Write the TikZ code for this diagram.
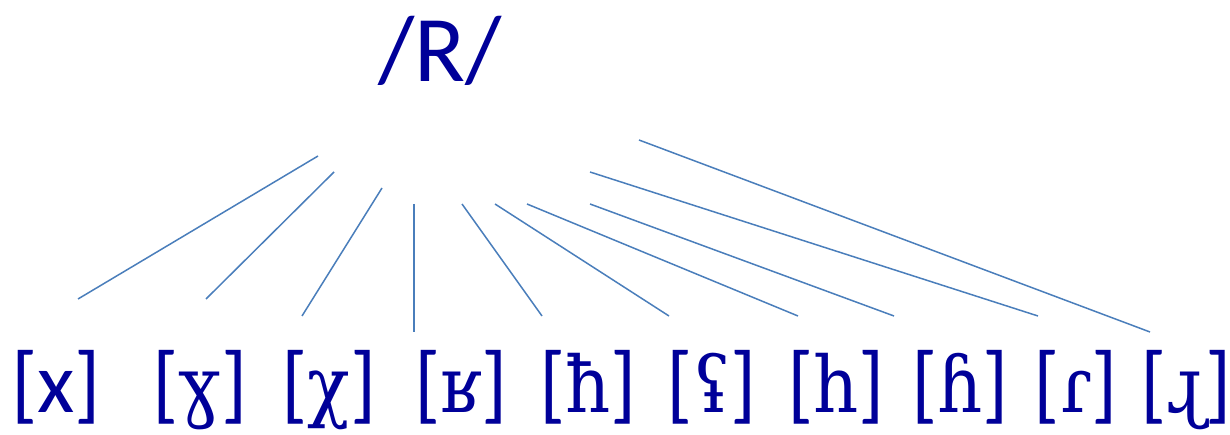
\documentclass[tikz,border=0pt]{standalone}
\usepackage{fontspec}
\setmainfont{Carlito}
\newfontfamily\serfam{DejaVu Serif Condensed}
\definecolor{txt}{HTML}{000099}
\definecolor{ln}{HTML}{4A7EBB}
\newcommand{\ipa}[1]{{\serfam\fontsize{78}{90}\selectfont #1}}
\begin{document}
\begin{tikzpicture}[x=1pt,y=-1pt,
  lbl/.style={text=txt,font=\fontsize{86}{100}\selectfont,anchor=base,inner sep=0pt},
  head/.style={text=txt,font=\fontsize{94}{110}\selectfont,anchor=base,inner sep=0pt},
  conn/.style={draw=ln,line width=1.5pt}]
\useasboundingbox (0,0) rectangle (1230,435);
\node[head] (R) at (440,82) {/R/};
\node[lbl] (n1) at (56,412) {[x]};
\node[lbl] (n2) at (200,412) {[\ipa{ɣ}]};
\node[lbl] (n3) at (329,412) {[\ipa{χ}]};
\node[lbl] (n4) at (461,412) {[\ipa{ʁ}]};
\node[lbl] (n5) at (588,412) {[\ipa{ħ}]};
\node[lbl] (n6) at (712,412) {[\ipa{ʢ}]};
\node[lbl] (n7) at (836,412) {[\ipa{h}]};
\node[lbl] (n8) at (960,412) {[\ipa{ɦ}]};
\node[lbl] (n9) at (1076,412) {[\ipa{ɾ}]};
\node[lbl] (n10) at (1186,412) {[\ipa{ɻ}]};
\coordinate (t1) at (318,156);  \coordinate (b1) at (78,299);
\coordinate (t2) at (334,172);  \coordinate (b2) at (206,299);
\coordinate (t3) at (382,188);  \coordinate (b3) at (302,316);
\coordinate (t4) at (414,204);  \coordinate (b4) at (414,332);
\coordinate (t5) at (462,204);  \coordinate (b5) at (542,316);
\coordinate (t6) at (495,204);  \coordinate (b6) at (669,316);
\coordinate (t7) at (527,204);  \coordinate (b7) at (798,316);
\coordinate (t8) at (590,204);  \coordinate (b8) at (894,316);
\coordinate (t9) at (590,172);  \coordinate (b9) at (1038,316);
\coordinate (t10) at (639,140); \coordinate (b10) at (1150,332);
\foreach \i in {1,...,10} \draw[conn] (t\i) -- (b\i);
\end{tikzpicture}
\end{document}
